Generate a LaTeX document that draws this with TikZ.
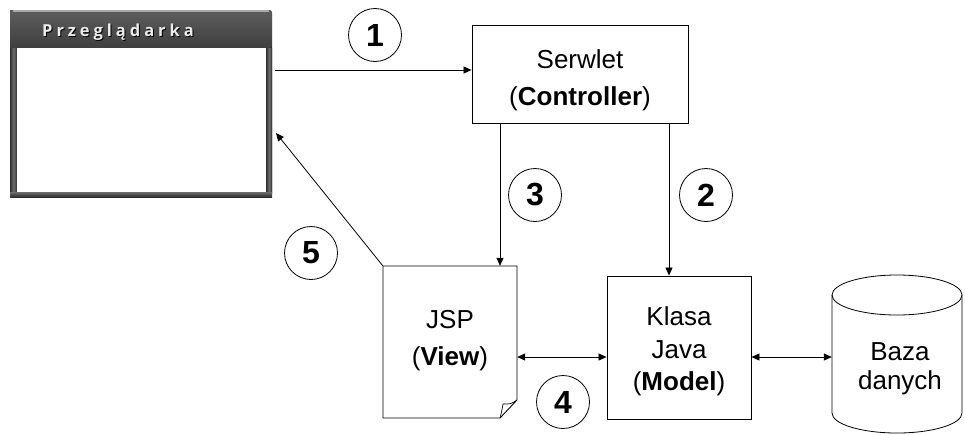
\documentclass[tikz,border=0pt]{standalone}
\usepackage{fontspec}
\setmainfont{Liberation Sans}
\newfontfamily\titlefont[LetterSpace=24]{Open Sans}
\usetikzlibrary{arrows.meta}
\definecolor{frameA}{HTML}{2E2E2E}
\definecolor{frameB}{HTML}{6E6E6E}
\definecolor{barTop}{HTML}{5E5E5E}
\definecolor{barBot}{HTML}{3E3E3E}
\definecolor{hilite}{HTML}{A8A8A8}
\definecolor{titleTxt}{HTML}{ECECEC}
\begin{document}
\begin{tikzpicture}[x=1pt,y=-1pt,
  box/.style={draw=black, line width=0.9pt, inner sep=0pt},
  txt/.style={font=\fontsize{26}{30}\selectfont, anchor=base, inner sep=0pt},
  num/.style={draw=black, line width=0.8pt, circle, minimum size=53pt, inner sep=0pt, font=\fontsize{32}{32}\bfseries},
  arr/.style={line width=0.8pt, -{Triangle[length=8pt,width=7pt]}},
  darr/.style={line width=0.8pt, {Triangle[length=8pt,width=7pt]}-{Triangle[length=8pt,width=7pt]}}]
\useasboundingbox (0,0) rectangle (965,434);

% --- browser window ---
\node[inner sep=0pt, minimum width=262pt, minimum height=187pt] (browser) at (141,103.5) {};
\fill[frameA, rounded corners=3pt] (10,10) rectangle (272,197);
\shade[top color=barTop, bottom color=barBot, rounded corners=3pt] (10,10) -- (272,10) -- (272,48) [sharp corners] -- (10,48) -- cycle;
\draw[hilite, line width=1.4pt] (13,11) -- (269,11);
\shade[left color=frameA, right color=frameA, middle color=frameB] (10,48) rectangle (17,192);
\shade[left color=frameA, right color=frameA, middle color=frameB] (266,48) rectangle (272,192);
\shade[top color=frameB, bottom color=frameA] (10,192) rectangle (272,197);
\fill[white] (17,48) rectangle (266,192);
\node[anchor=base west, inner sep=0pt, black, font=\titlefont\fontsize{16.5}{17}\bfseries] (titleshadow) at (43,37) {Przeglądarka};
\node[anchor=base west, inner sep=0pt, titleTxt, font=\titlefont\fontsize{16.5}{17}\bfseries] (title) at (42,36) {Przeglądarka};

% --- boxes ---
\node[box, minimum width=216pt, minimum height=98pt] (serwlet) at (580,74) {};
\node[txt] (s1) at (580,68) {Serwlet};
\node[txt] (s2) at (580,105) {(\textbf{Controller})};

\node[box, minimum width=144pt, minimum height=143pt] (klasa) at (679,347.5) {};
\node[txt] (k1) at (679,325) {Klasa};
\node[txt] (k2) at (679,358) {Java};
\node[txt] (k3) at (679,390) {(\textbf{Model})};

% JSP document
\node[inner sep=0pt, minimum width=134pt, minimum height=152pt] (jsp) at (450,342) {};
\draw[line width=0.9pt, line join=round]
  (383,266) -- (517,266) -- (517,400) -- (500,418) -- (383,418) -- cycle;
\draw[line width=0.7pt, line join=round]
  (517,400) .. controls (511,404) .. (503,404)
  .. controls (502,410) .. (500,418);
\node[txt] (j1) at (450,328) {JSP};
\node[txt] (j2) at (450,365) {(\textbf{View})};

% database cylinder
\node[inner sep=0pt, minimum width=130pt, minimum height=158pt] (db) at (897,354) {};
\draw[line width=0.8pt] (832,295) -- (832,413) arc[start angle=180, end angle=0, x radius=65, y radius=20] -- (962,295);
\draw[line width=0.8pt] (897,295) ellipse[x radius=65, y radius=20];
\node[txt] (d1) at (900,360) {Baza};
\node[txt] (d2) at (900,389) {danych};

% --- numbered circles ---
\node[num] (c1) at (375,35) {1};
\node[num] (c2) at (706,195) {2};
\node[num] (c3) at (535,195) {3};
\node[num] (c4) at (563,402) {4};
\node[num] (c5) at (311,253) {5};

% --- connectors ---
\coordinate (y1) at (0,70);
\coordinate (x3) at (500,0);
\coordinate (x2) at (669,0);
\coordinate (y4) at (0,357);
\coordinate (tip5) at (276,133);
\draw[arr] ([xshift=3pt]browser.east |- y1) -- (serwlet.west |- y1);
\draw[arr] (serwlet.south -| x3) -- (jsp.north -| x3);
\draw[arr] (serwlet.south -| x2) -- (klasa.north -| x2);
\draw[darr] (jsp.east |- y4) -- (klasa.west |- y4);
\draw[darr] (klasa.east |- y4) -- (db.west |- y4);
\draw[arr] (jsp.north west) -- (tip5);
\end{tikzpicture}
\end{document}
